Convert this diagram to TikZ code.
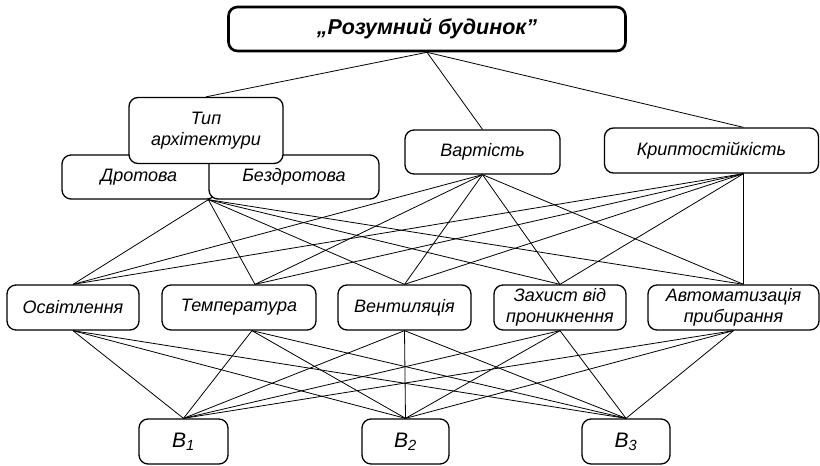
\documentclass[tikz,border=0pt]{standalone}
\usepackage{fontspec}
\setmainfont{Liberation Sans}
\usetikzlibrary{positioning,calc}

\tikzset{
  crit/.style={draw, rounded corners=9pt, fill=white, line width=1.3pt, align=center,
    inner sep=2pt, font=\itshape\fontsize{18}{21.5}\selectfont},
  goal/.style={crit, line width=2.6pt, font=\bfseries\itshape\fontsize{21.5}{23}\selectfont},
  alt/.style={crit, font=\itshape\fontsize{21}{22}\selectfont},
  link/.style={line width=0.8pt}
}

\begin{document}
\begin{tikzpicture}[x=1pt, y=-1pt]
  \useasboundingbox (0,0) rectangle (820,466);

  % goal
  \node[goal, minimum width=397pt, minimum height=44pt] (goal) at (427,29) {„Розумний будинок”};

  % criteria
  \node[crit, minimum width=154pt, minimum height=44pt] (drot) at (139,177) {Дротова};
  \node[crit, minimum width=170pt, minimum height=44pt] (bezdrot) at (294,177) {Бездротова};
  \node[crit, minimum width=154pt, minimum height=66pt] (typ) at (206,130.5) {Тип\\архітектури};
  \node[crit, minimum width=155pt, minimum height=44pt] (vart) at (482.5,152) {Вартість};
  \node[crit, minimum width=214pt, minimum height=45pt] (krypt) at (711.5,150.5) {Криптостійкість};

  % sub-criteria
  \node[crit, minimum width=132pt, minimum height=45pt] (osv) at (73,307.5) {Освітлення};
  \node[crit, minimum width=154pt, minimum height=45pt] (temp) at (239,307.5) {Температура};
  \node[crit, minimum width=133pt, minimum height=45pt] (vent) at (404.5,307.5) {Вентиляція};
  \node[crit, minimum width=132pt, minimum height=45pt] (zah) at (560,307.5) {Захист від\\проникнення};
  \node[crit, minimum width=171pt, minimum height=45pt] (auto) at (733.5,307.5) {Автоматизація\\прибирання};

  % alternatives
  \node[alt, minimum width=89pt, minimum height=45pt] (b1) at (183.5,441.5) {B\textsubscript{1}};
  \node[alt, minimum width=87pt, minimum height=45pt] (b2) at (405.5,441.5) {B\textsubscript{2}};
  \node[alt, minimum width=88pt, minimum height=45pt] (b3) at (626,441.5) {B\textsubscript{3}};

  % attach points
  \coordinate (wired) at (bezdrot.south west);
  \coordinate (kr-n) at ([xshift=32pt]krypt.north);
  \coordinate (kr-s) at ([xshift=32pt]krypt.south);
  \coordinate (temp-n) at ([xshift=16pt]temp.north);
  \coordinate (temp-s) at ([xshift=13pt]temp.south);
  \coordinate (auto-n) at ([xshift=10pt]auto.north);

  % goal -> criteria
  \draw[link] (goal.south) -- (typ.north);
  \draw[link] (goal.south) -- (vart.north);
  \draw[link] (goal.south) -- (kr-n);

  % criteria -> sub-criteria
  \foreach \s in {wired, vart.south, kr-s}
    \foreach \t in {osv.north, temp-n, vent.north, zah.north, auto-n}
      \draw[link] (\s) -- (\t);

  % sub-criteria -> alternatives
  \foreach \s in {osv.south, temp-s, vent.south, zah.south, auto.south}
    \foreach \t in {b1.north, b2.north, b3.north}
      \draw[link] (\s) -- (\t);
\end{tikzpicture}
\end{document}
